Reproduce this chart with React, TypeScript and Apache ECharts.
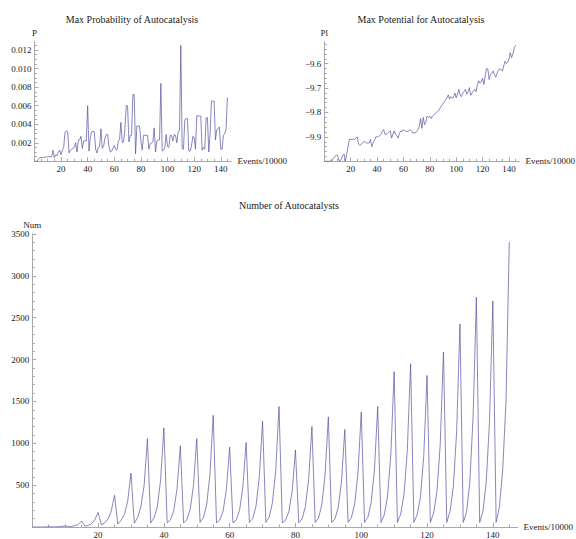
import React, { useEffect, useRef } from 'react';
import * as echarts from 'echarts';

// x positions: Events/10000 (0..145)
const EVENTS: number[] = Array.from({ length: 146 }, (_, i) => i);

const P_VALUES: number[] = [
  0, 0, 0, 0.0002, 0.0004, 0.0004, 0.0004, 0.00045, 0.00045, 0.00045,
  0.0005, 0.0005, 0.0005, 0.0005, 0.0012, 0.0004, 0.0007, 0.0006, 0.001, 0.0012,
  0.0007, 0.0012, 0.0015, 0.0031, 0.0033, 0.0032, 0.0009, 0.0012, 0.0013, 0.0014,
  0.0015, 0.002, 0.001, 0.0023, 0.0023, 0.0027, 0.0014, 0.0022, 0.0022, 0.0022,
  0.006, 0.0011, 0.0025, 0.0032, 0.0032, 0.0032, 0.0013, 0.0009, 0.0015, 0.0016,
  0.0035, 0.0014, 0.0016, 0.0025, 0.0029, 0.0029, 0.0016, 0.001, 0.0011, 0.0014,
  0.0017, 0.0013, 0.0012, 0.0021, 0.0024, 0.0042, 0.002, 0.0021, 0.0035, 0.006,
  0.006, 0.0021, 0.0028, 0.0028, 0.0072, 0.0072, 0.0008, 0.0038, 0.0038, 0.0038,
  0.0022, 0.0012, 0.0028, 0.0028, 0.0028, 0.0028, 0.0013, 0.0019, 0.002, 0.0021,
  0.0036, 0.001, 0.0022, 0.0023, 0.0023, 0.0084, 0.0011, 0.0012, 0.0015, 0.0029,
  0.0016, 0.0015, 0.0028, 0.0028, 0.0022, 0.0029, 0.0028, 0.002, 0.0032, 0.0033,
  0.0125, 0.0014, 0.0013, 0.0045, 0.0046, 0.0046, 0.0011, 0.0011, 0.0016, 0.0027,
  0.0026, 0.0013, 0.0049, 0.0049, 0.0049, 0.0049, 0.0012, 0.0015, 0.0013, 0.0047,
  0.0047, 0.001, 0.003, 0.0065, 0.0065, 0.0065, 0.0023, 0.0034, 0.0035, 0.0037,
  0.0013, 0.0013, 0.0028, 0.003, 0.0035, 0.0069,
];

const PL_VALUES: number[] = [
  -10, -10, -10, -10, -10, -9.998, -9.995, -9.99, -9.98, -9.975,
  -9.975, -9.995, -9.998, -9.99, -9.975, -9.97, -9.998, -9.97, -9.94, -9.91,
  -9.91, -9.91, -9.91, -9.91, -9.905, -9.9, -9.93, -9.935, -9.93, -9.925,
  -9.92, -9.92, -9.925, -9.925, -9.925, -9.91, -9.94, -9.925, -9.915, -9.9,
  -9.9, -9.898, -9.895, -9.89, -9.875, -9.87, -9.89, -9.888, -9.885, -9.88,
  -9.875, -9.905, -9.89, -9.875, -9.89, -9.895, -9.905, -9.885, -9.875, -9.878,
  -9.87, -9.875, -9.878, -9.878, -9.876, -9.87, -9.875, -9.885, -9.882, -9.884,
  -9.878, -9.87, -9.858, -9.825, -9.865, -9.82, -9.85, -9.84, -9.815, -9.82,
  -9.815, -9.825, -9.815, -9.81, -9.805, -9.8, -9.795, -9.79, -9.78, -9.77,
  -9.765, -9.755, -9.748, -9.74, -9.728, -9.745, -9.735, -9.74, -9.738, -9.72,
  -9.74, -9.725, -9.705, -9.73, -9.735, -9.72, -9.715, -9.705, -9.725, -9.715,
  -9.698, -9.73, -9.72, -9.712, -9.705, -9.715, -9.69, -9.67, -9.68, -9.675,
  -9.66, -9.685, -9.65, -9.62, -9.622, -9.665, -9.645, -9.64, -9.63, -9.645,
  -9.655, -9.64, -9.628, -9.62, -9.625, -9.63, -9.61, -9.59, -9.6, -9.595,
  -9.58, -9.555, -9.575, -9.56, -9.535, -9.525,
];

const NUM_VALUES: number[] = [
  0, 0, 0, 0, 1, 3, 1, 2, 4, 7,
  14, 3, 8, 15, 32, 72, 10, 18, 40, 85,
  175, 25, 50, 95, 190, 380, 35, 80, 150, 310,
  645, 45, 110, 240, 500, 1055, 50, 110, 240, 560,
  1185, 50, 85, 195, 455, 970, 50, 90, 210, 495,
  1055, 55, 110, 265, 625, 1335, 50, 85, 190, 450,
  955, 50, 85, 200, 475, 1010, 55, 100, 250, 595,
  1265, 55, 115, 290, 675, 1440, 50, 80, 185, 430,
  920, 50, 95, 240, 565, 1200, 55, 105, 265, 620,
  1315, 55, 95, 235, 545, 1165, 55, 110, 275, 645,
  1375, 55, 115, 290, 675, 1440, 55, 145, 370, 870,
  1855, 55, 155, 390, 915, 1950, 55, 145, 360, 850,
  1810, 55, 165, 420, 980, 2090, 55, 190, 485, 1140,
  2425, 55, 175, 530, 1320, 2745, 55, 190, 540, 1270,
  2700, 55, 240, 680, 1500, 3405,
];

// tick labels
const X_TICKS: number[] = [20, 40, 60, 80, 100, 120, 140];
const P_TICKS: number[] = [0.002, 0.004, 0.006, 0.008, 0.01, 0.012];
const PL_TICKS: number[] = [-9.9, -9.8, -9.7, -9.6];
const NUM_TICKS: number[] = [500, 1000, 1500, 2000, 2500, 3000, 3500];

const TITLES = ['Max Probability of Autocatalysis', 'Max Potential for Autocatalysis', 'Number of Autocatalysts'];

function steps(from: number, to: number, step: number, skip: number[]): number[] {
  const out: number[] = [];
  const n = Math.round((to - from) / step);
  for (let i = 0; i <= n; i++) {
    const v = Math.round((from + i * step) * 1e6) / 1e6;
    if (!skip.some((s) => Math.abs(s - v) < step / 10)) out.push(v);
  }
  return out;
}

const FONT = '"Liberation Serif", "DejaVu Serif", "Times New Roman", serif';
const AXIS = '#a8a8a8';
const TEXT = '#1a1a1a';
const LINE = '#5353a2';

export default function App() {
  const ref = useRef<HTMLDivElement>(null);
  useEffect(() => {
    if (!ref.current) return;
    const chart = echarts.init(ref.current, undefined, { renderer: 'svg' });

    const xMinor = steps(5, 145, 5, X_TICKS);
    const pMinor = steps(0.0005, 0.0125, 0.0005, P_TICKS);
    const plMinor = steps(-9.98, -9.52, 0.02, PL_TICKS);
    const numMinor = steps(100, 3500, 100, NUM_TICKS);

    const labelStyle = { fontSize: 9, fontFamily: FONT, color: TEXT };

    const xMajor = (gridIndex: number, max: number) => ({
      type: 'value', gridIndex, min: 0, max, position: 'bottom',
      axisLine: { show: true, onZero: false, lineStyle: { color: AXIS, width: 1 } },
      axisTick: { show: true, inside: true, length: 4, customValues: X_TICKS, lineStyle: { color: AXIS } },
      axisLabel: { show: true, customValues: X_TICKS, margin: 3, ...labelStyle },
      splitLine: { show: false },
      name: 'Events/10000', nameLocation: 'end', nameGap: 6,
      nameTextStyle: { ...labelStyle, align: 'left', verticalAlign: 'middle' },
    });
    const xMinorAxis = (gridIndex: number, max: number) => ({
      type: 'value', gridIndex, min: 0, max, position: 'bottom',
      axisLine: { show: false, onZero: false },
      axisTick: { show: true, inside: true, length: 2.5, customValues: xMinor, lineStyle: { color: AXIS } },
      axisLabel: { show: false },
      splitLine: { show: false },
    });
    const yMajor = (gridIndex: number, min: number, max: number, ticks: number[], fmt: (v: number) => string, name: string, gap: number) => ({
      type: 'value', gridIndex, min, max, position: 'left',
      axisLine: { show: true, onZero: false, lineStyle: { color: AXIS, width: 1 } },
      axisTick: { show: true, inside: true, length: 4, customValues: ticks, lineStyle: { color: AXIS } },
      axisLabel: { show: true, customValues: ticks, margin: 3, formatter: fmt, ...labelStyle },
      splitLine: { show: false },
      name, nameLocation: 'end', nameGap: gap,
      nameTextStyle: { ...labelStyle, align: 'center' },
    });
    const yMinorAxis = (gridIndex: number, min: number, max: number, ticks: number[]) => ({
      type: 'value', gridIndex, min, max, position: 'left',
      axisLine: { show: false, onZero: false },
      axisTick: { show: true, inside: true, length: 2.5, customValues: ticks, lineStyle: { color: AXIS } },
      axisLabel: { show: false },
      splitLine: { show: false },
    });

    const lineSeries = (idx: number, values: number[]) => ({
      type: 'line', xAxisIndex: idx * 2, yAxisIndex: idx * 2,
      data: EVENTS.map((e, i) => [e, values[i]]),
      showSymbol: false, symbol: 'none', silent: true,
      lineStyle: { color: LINE, width: 0.7 },
    });

    chart.setOption({
      animation: false,
      backgroundColor: '#ffffff',
      grid: [
        { left: 34.4, top: 41.7, width: 197, height: 119.6 },
        { left: 324.3, top: 41.7, width: 197.3, height: 119.6 },
        { left: 32.3, top: 234, width: 486.7, height: 297.5 },
      ],
      xAxis: [
        xMajor(0, 148), xMinorAxis(0, 148),
        xMajor(1, 148), xMinorAxis(1, 148),
        xMajor(2, 147.5), xMinorAxis(2, 147.5),
      ],
      yAxis: [
        yMajor(0, 0, 0.0129, P_TICKS, (v: number) => v.toFixed(3), 'P', 4),
        yMinorAxis(0, 0, 0.0129, pMinor),
        yMajor(1, -10, -9.51, PL_TICKS, (v: number) => '\u2212' + Math.abs(v).toFixed(1), 'Pl', 4),
        yMinorAxis(1, -10, -9.51, plMinor),
        yMajor(2, 0, 3500, NUM_TICKS, (v: number) => String(Math.round(v)), 'Num', 5),
        yMinorAxis(2, 0, 3500, numMinor),
      ],
      series: [
        lineSeries(0, P_VALUES),
        lineSeries(1, PL_VALUES),
        lineSeries(2, NUM_VALUES),
      ],
      graphic: [
        { type: 'text', x: 132, y: 19, style: { text: TITLES[0], font: `10px ${FONT}`, fill: TEXT, textAlign: 'center', textVerticalAlign: 'middle' } },
        { type: 'text', x: 421, y: 19, style: { text: TITLES[1], font: `10px ${FONT}`, fill: TEXT, textAlign: 'center', textVerticalAlign: 'middle' } },
        { type: 'text', x: 289, y: 205, style: { text: TITLES[2], font: `10px ${FONT}`, fill: TEXT, textAlign: 'center', textVerticalAlign: 'middle' } },
      ],
    });
    return () => chart.dispose();
  }, []);
  return (
    <div
      ref={ref}
      style={{ position: 'absolute', left: 0, top: 0, width: 576, height: 539, overflow: 'hidden', background: '#fff' }}
    />
  );
}
